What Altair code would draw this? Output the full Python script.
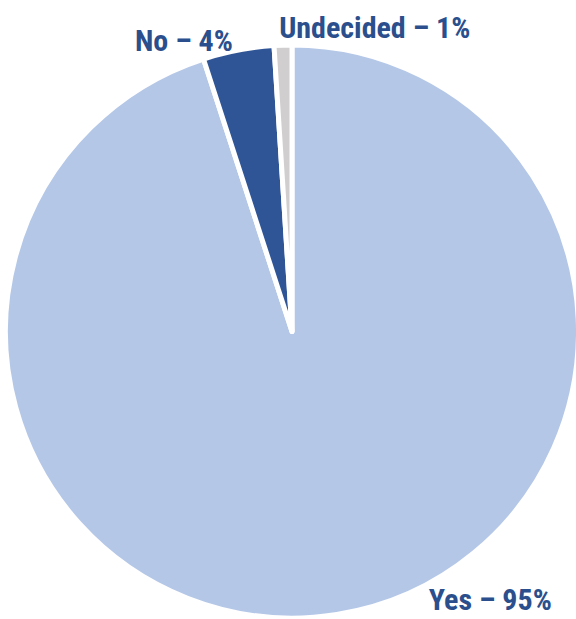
import math
import altair as alt
import pandas as pd

# Survey answers and their shares (percent)
answers = ["Yes", "No", "Undecided"]
shares = [95, 4, 1]
colors = ["#B4C7E7", "#2F5597", "#D0CECE"]

df = pd.DataFrame({
    "answer": answers,
    "share": shares,
    "rank": list(range(len(answers))),
    "label": [f"{a} – {s}%" for a, s in zip(answers, shares)],
})

TEXT_COLOR = "#2B4F8C"
FONT = "Roboto Condensed, Liberation Sans Narrow, DejaVu Sans Condensed, sans-serif"

pie = alt.Chart(df).mark_arc(
    outerRadius=286.5, stroke="white", strokeWidth=5, strokeJoin="round"
).encode(
    theta=alt.Theta("share:Q", stack=True),
    order=alt.Order("rank:Q"),
    color=alt.Color(
        "answer:N",
        scale=alt.Scale(domain=answers, range=colors),
        legend=None,
    ),
)

# label placement around the pie: (answer, angle in degrees, radius, align)
label_spots = [
    ("Yes", 137.0, 381, "right"),
    ("No", 348.1, 287, "right"),
    ("Undecided", 357.5, 294, "left"),
]

labels = []
for name, ang, rad, al in label_spots:
    labels.append(
        alt.Chart(df).transform_filter(alt.datum.answer == name).mark_text(
            font=FONT, fontWeight="bold", fontSize=30,
            align=al, baseline="alphabetic", color=TEXT_COLOR,
        ).encode(
            theta=alt.value(math.radians(ang)),
            radius=alt.value(rad),
            text="label:N",
        )
    )

chart = alt.layer(pie, *labels).properties(
    width=568,
    height=575,
    padding={"left": 8, "top": 44, "right": 0, "bottom": 0},
    autosize=alt.AutoSizeParams(type="none"),
).configure_view(stroke=None)

chart.save("out.html", embed_options={"renderer": "svg", "actions": False})
